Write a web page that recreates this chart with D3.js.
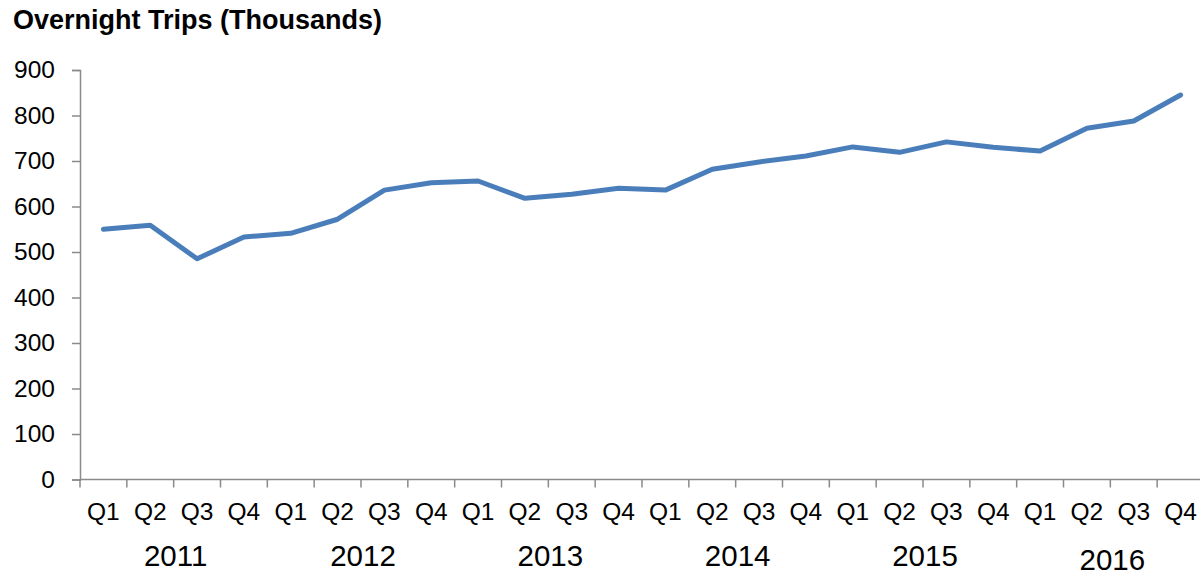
<!DOCTYPE html>
<html>
<head>
<meta charset="utf-8">
<script src="https://cdn.jsdelivr.net/npm/d3@7"></script>
<style>
  body { margin: 0; background: #fff; }
  svg text { font-family: "Liberation Sans", Arial, sans-serif; fill: #000; }
</style>
</head>
<body>
<div id="mainDiv"></div>
<script>
'use strict';

// data
var years = ['2011', '2012', '2013', '2014', '2015', '2016'];
var quarters = ['Q1', 'Q2', 'Q3', 'Q4'];
var trips = [550, 559, 485, 533, 541, 572, 636, 652, 656, 618, 627, 640,
             636, 682, 698, 711, 731, 719, 742, 730, 722, 772, 788, 845];
var yTicks = [0, 100, 200, 300, 400, 500, 600, 700, 800, 900];

var chart = {};
chart.w = 1200;
chart.h = 577;
chart.left = 80;
chart.right = 1204;
chart.top = 70;
chart.bottom = 479.5;
chart.axisColor = '#8a8a8a';
chart.lineColor = '#4a7ebb';

chart.run = function()
{
    var svg = d3.select('#mainDiv').append('svg')
        .attr('width', chart.w)
        .attr('height', chart.h);

    // one category per quarter
    var cats = [];
    years.forEach(function(y) {
        quarters.forEach(function(q) { cats.push(y + ' ' + q); });
    });

    var x = d3.scaleBand().domain(cats).range([chart.left, chart.right]).paddingInner(0).paddingOuter(0);
    var y = d3.scaleLinear().domain([0, 900]).range([chart.bottom, chart.top]);

    // title
    svg.append('text')
        .attr('x', 13)
        .attr('y', 29)
        .style('font-size', '27px')
        .style('font-weight', 'bold')
        .text('Overnight Trips (Thousands)');

    // y axis
    var yAxis = d3.axisLeft(y).tickValues(yTicks).tickSize(8).tickPadding(17);
    var yg = svg.append('g')
        .attr('transform', 'translate(' + chart.left + ',0)')
        .call(yAxis);
    yg.select('.domain').attr('stroke', chart.axisColor).attr('stroke-width', 1.5);
    yg.selectAll('.tick line').attr('stroke', chart.axisColor).attr('stroke-width', 1.5);
    yg.selectAll('.tick text')
        .style('font-size', '24.5px')
        .style('font-family', '"Liberation Sans", Arial, sans-serif')
        .attr('fill', '#000');

    // x axis line
    svg.append('line')
        .attr('x1', chart.left).attr('x2', chart.right)
        .attr('y1', chart.bottom).attr('y2', chart.bottom)
        .attr('stroke', chart.axisColor).attr('stroke-width', 1.5);

    // x ticks between categories
    svg.selectAll('.xtick')
        .data(cats)
        .enter()
        .append('line')
        .attr('class', 'xtick')
        .attr('x1', function(d) { return x(d); })
        .attr('x2', function(d) { return x(d); })
        .attr('y1', chart.bottom)
        .attr('y2', chart.bottom + 8)
        .attr('stroke', chart.axisColor).attr('stroke-width', 1.5);

    // quarter labels
    svg.selectAll('.qlabel')
        .data(cats)
        .enter()
        .append('text')
        .attr('class', 'qlabel')
        .attr('x', function(d) { return x(d) + x.bandwidth() / 2; })
        .attr('y', 520)
        .attr('text-anchor', 'middle')
        .style('font-size', '24.5px')
        .text(function(d) { return d.split(' ')[1]; });

    // year labels, centred under their four quarters (last one sits lower)
    svg.selectAll('.ylabel')
        .data(years)
        .enter()
        .append('text')
        .attr('class', 'ylabel')
        .attr('x', function(d) { return x(d + ' Q3') + 2; })
        .attr('y', function(d, i) { return i == years.length - 1 ? 570 : 566; })
        .attr('text-anchor', 'middle')
        .style('font-size', '29.5px')
        .text(function(d) { return d; });

    // the line
    var line = d3.line()
        .x(function(d, i) { return x(cats[i]) + x.bandwidth() / 2; })
        .y(function(d) { return y(d); });

    svg.append('path')
        .datum(trips)
        .attr('d', line)
        .attr('fill', 'none')
        .attr('stroke', chart.lineColor)
        .attr('stroke-width', 5)
        .attr('stroke-linejoin', 'round')
        .attr('stroke-linecap', 'round');
}

window.onload = chart.run;
</script>
</body>
</html>
